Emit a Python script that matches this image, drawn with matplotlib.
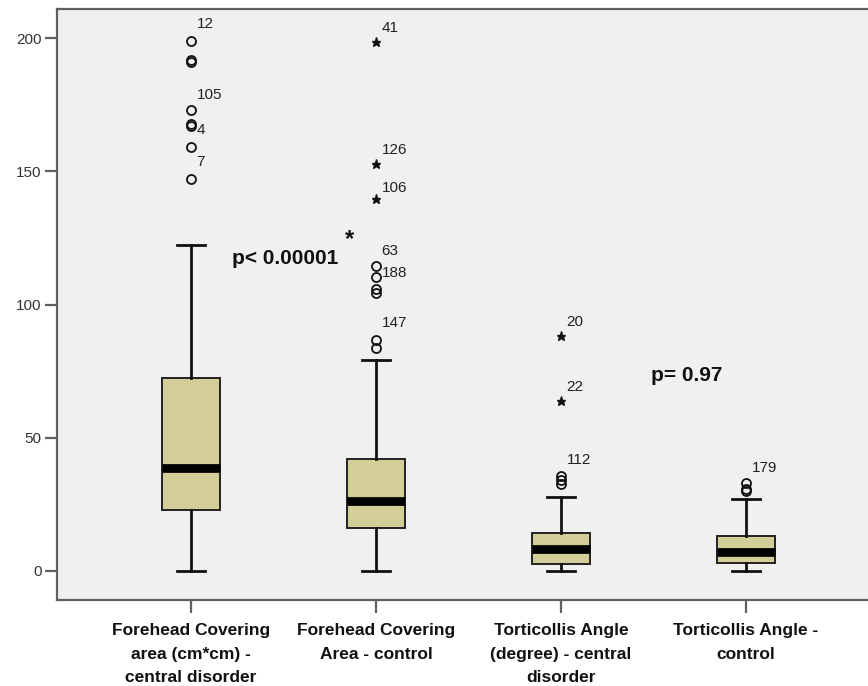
# boxplot: forehead covering area / torticollis angle, central disorder vs control

import matplotlib
matplotlib.use("Agg")
import matplotlib.pyplot as plt

plt.rcParams["font.family"] = ["Liberation Sans", "DejaVu Sans"]

categories = [
    "Forehead Covering\narea (cm*cm) -\ncentral disorder",
    "Forehead Covering\nArea - control",
    "Torticollis Angle\n(degree) - central\ndisorder",
    "Torticollis Angle -\ncontrol",
]

# box statistics
q1 = [22.8, 16.0, 2.6, 3.1]
median = [38.7, 26.1, 8.2, 7.1]
q3 = [72.3, 42.0, 14.2, 13.3]
whisker_low = [0.0, 0.0, 0.0, 0.0]
whisker_high = [122.3, 79.1, 27.7, 27.1]

# outliers (circles) and extremes (stars) per box
circles = [
    [199.0, 191.7, 191.0, 173.0, 167.7, 167.0, 159.0, 147.1],
    [114.6, 110.2, 106.0, 104.4, 86.8, 83.8],
    [35.7, 34.2, 32.6],
    [33.0, 30.8, 30.0],
]
stars = [
    [],
    [198.4, 152.7, 139.5],
    [88.2, 63.8],
    [],
]

# case-number labels: (box, value, text)
case_labels = [
    (0, 205.3, "12"), (0, 178.6, "105"), (0, 165.5, "4"), (0, 153.6, "7"),
    (1, 203.6, "41"), (1, 158.1, "126"), (1, 143.8, "106"),
    (1, 120.2, "63"), (1, 111.7, "188"), (1, 92.9, "147"),
    (2, 93.3, "20"), (2, 68.9, "22"), (2, 41.5, "112"),
    (3, 38.7, "179"),
]

positions = [1, 2, 3, 4]

fig = plt.figure(figsize=(8.68, 6.86), dpi=100)
ax = fig.add_axes([57 / 868, 1 - 600 / 686, 1 - 57 / 868, 591 / 686])
ax.set_facecolor("#f0f0f0")

stats = []
for i in range(4):
    stats.append(dict(med=median[i], q1=q1[i], q3=q3[i],
                      whislo=whisker_low[i], whishi=whisker_high[i], label=""))

ax.bxp(stats, positions=positions, widths=0.31, patch_artist=True,
       showfliers=False, capwidths=0.155,
       boxprops=dict(facecolor="#d3cd98", edgecolor="#222222", linewidth=1.4),
       medianprops=dict(color="black", linewidth=6.3, solid_capstyle="butt"),
       whiskerprops=dict(color="#111111", linewidth=2.0),
       capprops=dict(color="#111111", linewidth=2.0))

for i, pos in enumerate(positions):
    if circles[i]:
        ax.plot([pos] * len(circles[i]), circles[i], linestyle="none",
                marker="o", markersize=6.5, markerfacecolor="none",
                markeredgecolor="#111111", markeredgewidth=1.3)
    if stars[i]:
        ax.plot([pos] * len(stars[i]), stars[i], linestyle="none",
                marker="*", markersize=6.5, color="#111111")

for box, val, txt in case_labels:
    ax.text(positions[box] + 0.03, val, txt, ha="left", va="center",
            fontsize=11, color="#222222")

ax.text(1.222, 117.4, "p< 0.00001", ha="left", va="center",
        fontsize=15, fontweight="bold", color="#111111")
ax.text(1.856, 124.5, "*", ha="center", va="center",
        fontsize=17, fontweight="bold", color="#111111")
ax.text(3.486, 73.2, "p= 0.97", ha="left", va="center",
        fontsize=15, fontweight="bold", color="#111111")

ax.set_xlim(0.2757, 4.659)
ax.set_ylim(-10.9, 210.9)
ax.set_yticks([0, 50, 100, 150, 200])
ax.set_xticks(positions)
ax.set_xticklabels(categories, fontsize=12.5, fontweight="bold",
                   color="#111111", linespacing=1.72)

for side in ["left", "bottom", "top"]:
    ax.spines[side].set_color("#606060")
    ax.spines[side].set_linewidth(1.6)
ax.spines["right"].set_visible(False)

ax.tick_params(axis="y", length=9, width=1.6, color="#606060",
               labelsize=11, labelcolor="#333333", pad=2)
ax.tick_params(axis="x", length=9.5, width=1.6, color="#606060", pad=7)

fig.savefig("out.png", dpi=100)
